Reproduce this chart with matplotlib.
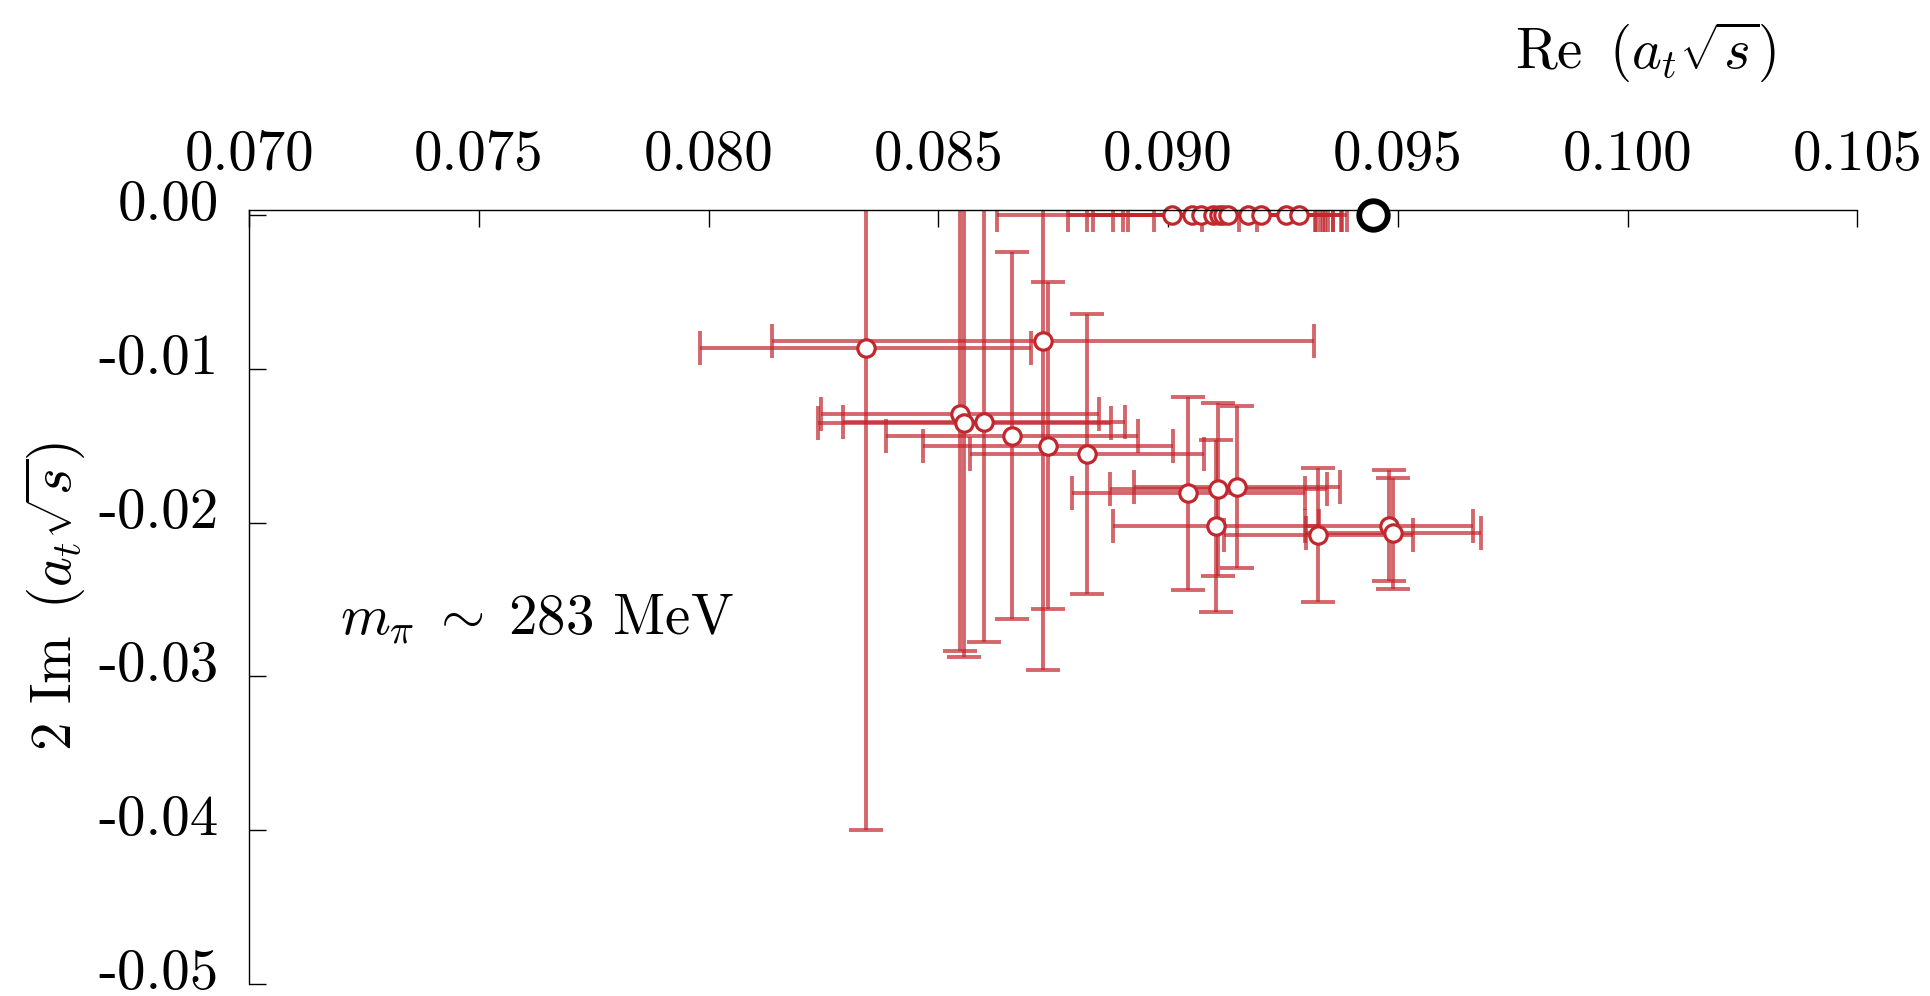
import matplotlib
matplotlib.use("Agg")
import matplotlib.pyplot as plt
from matplotlib.transforms import ScaledTranslation

plt.rcParams['font.family'] = 'serif'
plt.rcParams['font.serif'] = ['cmr10']
plt.rcParams['mathtext.fontset'] = 'cm'
plt.rcParams['axes.unicode_minus'] = False
plt.rcParams['ytick.alignment'] = 'baseline'

# pole positions in the complex energy plane, one entry per fit
re_vals = [0.08342, 0.08728, 0.08547, 0.08556, 0.08599, 0.08661, 0.08739, 0.08823,
           0.09044, 0.09109, 0.09150, 0.09104, 0.09327, 0.09481, 0.09490,
           0.09008, 0.09052, 0.09071, 0.09098, 0.09111, 0.09120, 0.09130,
           0.09174, 0.09202, 0.09257, 0.09285]
im_vals = [-0.00867, -0.00821, -0.01296, -0.01354, -0.01348, -0.01435, -0.01500, -0.01554,
           -0.01810, -0.01784, -0.01767, -0.02022, -0.02081, -0.02020, -0.02070,
           0, 0, 0, 0, 0, 0, 0, 0, 0, 0, 0]
re_err = [0.00360, 0.00590, 0.00302, 0.00319, 0.00307, 0.00274, 0.00272, 0.00255,
          0.00254, 0.00236, 0.00225, 0.00225, 0.00205, 0.00183, 0.00190,
          0.00381, 0.00270, 0.00248, 0.00261, 0.00231, 0.00218, 0.00218,
          0.00205, 0.00128, 0.00102, 0.00091]
im_err = [0.03132, 0.02135, 0.01537, 0.01518, 0.01430, 0.01195, 0.01062, 0.00908,
          0.00626, 0.00561, 0.00525, 0.00561, 0.00437, 0.00361, 0.00361,
          0, 0, 0, 0, 0, 0, 0, 0, 0, 0, 0]

# threshold point
thr_re = [0.09447]
thr_im = [0.0]

xticks = [0.070, 0.075, 0.080, 0.085, 0.090, 0.095, 0.100, 0.105]
xtick_labels = ['0.070', '0.075', '0.080', '0.085', '0.090', '0.095', '0.100', '0.105']
yticks = [0.00, -0.01, -0.02, -0.03, -0.04, -0.05]
ytick_labels = ['0.00', '-0.01', '-0.02', '-0.03', '-0.04', '-0.05']

red = '#c1272d'
fs = 41

fig = plt.figure(figsize=(19.31, 9.96), dpi=100)
ax = fig.add_axes([0.1291, 0.01205, 0.8327, 0.7771])

ax.errorbar(re_vals, im_vals, xerr=re_err, yerr=im_err, fmt='none',
            ecolor=red, elinewidth=2.8, capsize=12.5, capthick=2.8,
            alpha=0.7, zorder=1.5)
ax.plot(re_vals, im_vals, 'o', ms=12.5, mew=2.3, mfc='white', mec=red,
        clip_on=False, zorder=2.2)
ax.plot(thr_re, thr_im, 'o', ms=20.5, mew=4.2, mfc='white', mec='black',
        clip_on=False, zorder=3)

ax.set_xlim(0.070, 0.105)
ax.set_ylim(-0.05, 0.000325)

ax.spines['right'].set_visible(False)
ax.spines['bottom'].set_visible(False)
for s in ('top', 'left'):
    ax.spines[s].set_linewidth(1.0)
    ax.spines[s].set_zorder(2.5)

ax.xaxis.tick_top()
ax.set_xticks(xticks)
ax.set_xticklabels(xtick_labels)
ax.set_yticks(yticks)
ax.set_yticklabels(ytick_labels)
ax.tick_params(axis='both', direction='in', length=12, width=1.0, labelsize=fs)
ax.tick_params(axis='x', pad=21)
ax.tick_params(axis='y', pad=22)

# drop the y tick labels a few pixels below their baseline
shift = ScaledTranslation(0, -5 / 100, fig.dpi_scale_trans)
for lab in ax.get_yticklabels():
    lab.set_transform(lab.get_transform() + shift)

ax.set_xlabel(r'Re $\,(a_t\sqrt{s})$', fontsize=fs)
ax.xaxis.set_label_position('top')
ax.xaxis.set_label_coords(0.868, 1.205)
ax.xaxis.label.set_va('center')

ax.set_ylabel(r'2 Im $\,(a_t\sqrt{s})$', fontsize=fs)
ax.yaxis.set_label_coords(-0.121, 0.50)
ax.yaxis.label.set_va('center')

ax.text(0.07198, -0.02627, r'$m_\pi\;\sim\;283$ MeV', fontsize=fs,
        ha='left', va='center')

fig.savefig('out.png', dpi=100)
